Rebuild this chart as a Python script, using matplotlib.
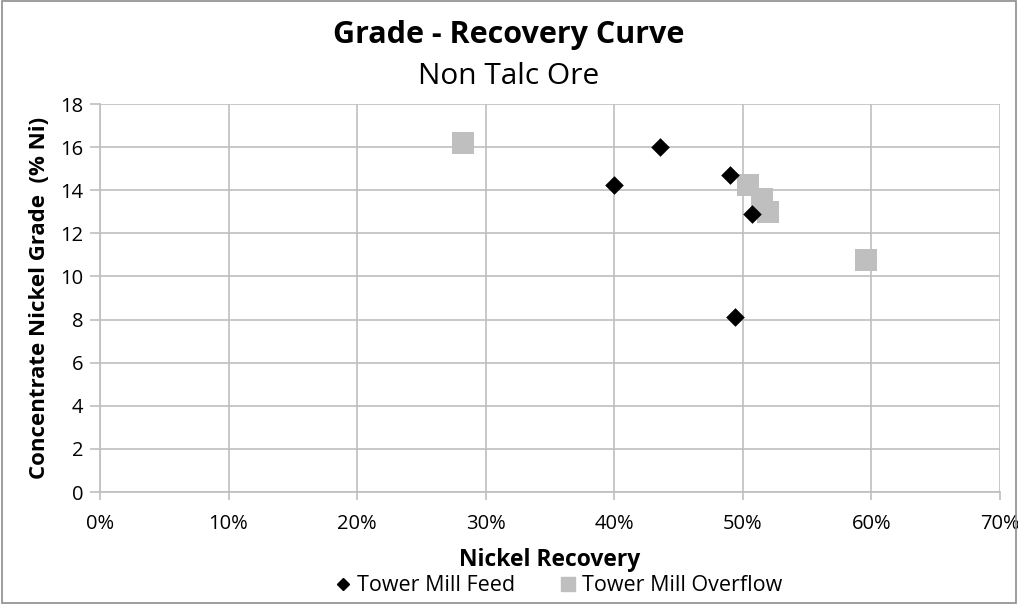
import matplotlib.pyplot as plt
from matplotlib.ticker import PercentFormatter
from matplotlib.lines import Line2D
from matplotlib.patches import Rectangle

plt.rcParams['font.family'] = ['Open Sans', 'DejaVu Sans']

# Tower Mill Feed (recovery %, grade % Ni)
feed_recovery = [40.0, 43.6, 49.0, 50.7, 49.4]
feed_grade = [14.25, 16.0, 14.7, 12.9, 8.1]

# Tower Mill Overflow
overflow_recovery = [28.2, 50.4, 51.5, 52.0, 59.6]
overflow_grade = [16.2, 14.25, 13.6, 13.0, 10.75]

fig = plt.figure(figsize=(10.18, 6.04), dpi=100)
ax = fig.add_axes([0.0982, 0.1854, 0.884, 0.6424])

grid_c = '#BFBFBF'
ax.scatter(overflow_recovery, overflow_grade, marker='s', s=260, color='#BFBFBF',
           linewidths=0, zorder=3, label='Tower Mill Overflow')
ax.scatter(feed_recovery, feed_grade, marker='D', s=90, color='black',
           linewidths=0, zorder=4, label='Tower Mill Feed')

ax.set_xlim(0, 70)
ax.set_ylim(0, 18)
ax.set_xticks(range(0, 71, 10))
ax.set_yticks(range(0, 19, 2))
ax.xaxis.set_major_formatter(PercentFormatter(decimals=0))
ax.grid(True, color=grid_c, linewidth=1.2)
ax.set_axisbelow(True)
for s in ['top', 'right']:
    ax.spines[s].set_visible(False)
for s in ['left', 'bottom']:
    ax.spines[s].set_color(grid_c)
    ax.spines[s].set_linewidth(1.2)
ax.tick_params(axis='y', length=7, width=1.2, color=grid_c, labelsize=14.5, pad=5)
ax.tick_params(axis='x', length=6, width=1.2, color=grid_c, labelsize=14.5, pad=10)

ax.set_xlabel('Nickel Recovery', fontsize=16.5, fontweight='bold', labelpad=10)
ax.set_ylabel('Concentrate Nickel Grade  (% Ni)', fontsize=16, fontweight='bold', labelpad=7)

fig.text(0.5, 0.942, 'Grade - Recovery Curve', ha='center', va='center',
         fontsize=22, fontweight='bold')
fig.text(0.5, 0.873, 'Non Talc Ore', ha='center', va='center', fontsize=21.5)

handles = [Line2D([], [], marker='D', color='black', linestyle='none', markersize=6.5),
           Line2D([], [], marker='s', color='#BFBFBF', linestyle='none', markersize=10)]
fig.legend(handles, ['Tower Mill Feed', 'Tower Mill Overflow'], loc='center',
           bbox_to_anchor=(0.548, 0.03), ncol=2, frameon=False, fontsize=15.5,
           handletextpad=0.2, columnspacing=2.0, handlelength=0.9)

fig.add_artist(Rectangle((0.002, 0.002), 0.996, 0.996, transform=fig.transFigure,
                         fill=False, edgecolor='#8C8C8C', linewidth=1.2))

plt.savefig('out.png', dpi=100)
